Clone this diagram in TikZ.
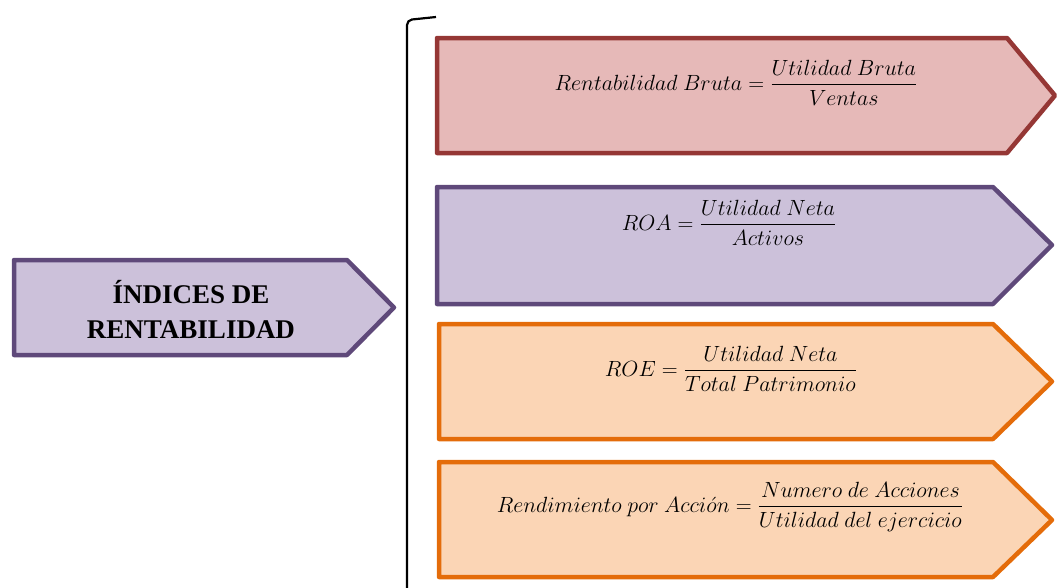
\RequirePackage{fix-cm}
\documentclass[tikz,border=0pt]{standalone}
\usepackage{fontspec}
\setmainfont{Liberation Serif}
\usepackage{amsmath}
\usepackage{tikz}
\definecolor{rojoB}{HTML}{953735}
\definecolor{rojoF}{HTML}{E6B9B8}
\definecolor{moraB}{HTML}{5F497A}
\definecolor{moraF}{HTML}{CCC1DA}
\definecolor{narB}{HTML}{E46C0A}
\definecolor{narF}{HTML}{FBD5B5}
\tikzstyle{flecha} = [line width=4.5pt, line join=round]
\tikzstyle{formula} = [anchor=base, inner sep=0pt, font=\fontsize{22}{26}\selectfont]

\begin{document}
\begin{tikzpicture}[x=1pt, y=-1pt]
        \useasboundingbox (0,0) rectangle (1059,587);
        % Titulo
        \draw[flecha, draw=moraB, fill=moraF] (14,260) -- (347,260) -- (394,307.5) -- (347,355) -- (14,355) -- cycle;
        \node (titulo) [align=center, font=\fontsize{27}{35}\selectfont\bfseries] at (191,309) {ÍNDICES DE\\RENTABILIDAD};
        % Llave
        \draw[line width=2.2pt, rounded corners=5pt] (436,17) -- (407,20) -- (407,600);
        % Indices
        \draw[flecha, draw=rojoB, fill=rojoF] (437,38) -- (1007,38) -- (1055,95.5) -- (1007,153) -- (437,153) -- cycle;
        \draw[flecha, draw=moraB, fill=moraF] (437,187) -- (993,187) -- (1052,245) -- (993,304) -- (437,304) -- cycle;
        \draw[flecha, draw=narB, fill=narF] (439,324) -- (993,324) -- (1052,381.5) -- (993,439) -- (439,439) -- cycle;
        \draw[flecha, draw=narB, fill=narF] (439,462) -- (993,462) -- (1052,520) -- (993,577) -- (439,577) -- cycle;
        \node (f1) [formula] at (736,90) {$Rentabilidad\ Bruta=\dfrac{Utilidad\ Bruta}{Ventas}$};
        \node (f2) [formula] at (729,230) {$ROA=\dfrac{Utilidad\ Neta}{Activos}$};
        \node (f3) [formula] at (731,376) {$ROE=\dfrac{Utilidad\ Neta}{Total\ Patrimonio}$};
        \node (f4) [formula] at (730,512) {$Rendimiento\ por\ Acci\acute{o}n=\dfrac{Numero\ de\ Acciones}{Utilidad\ del\ ejercicio}$};
\end{tikzpicture}
\end{document}
